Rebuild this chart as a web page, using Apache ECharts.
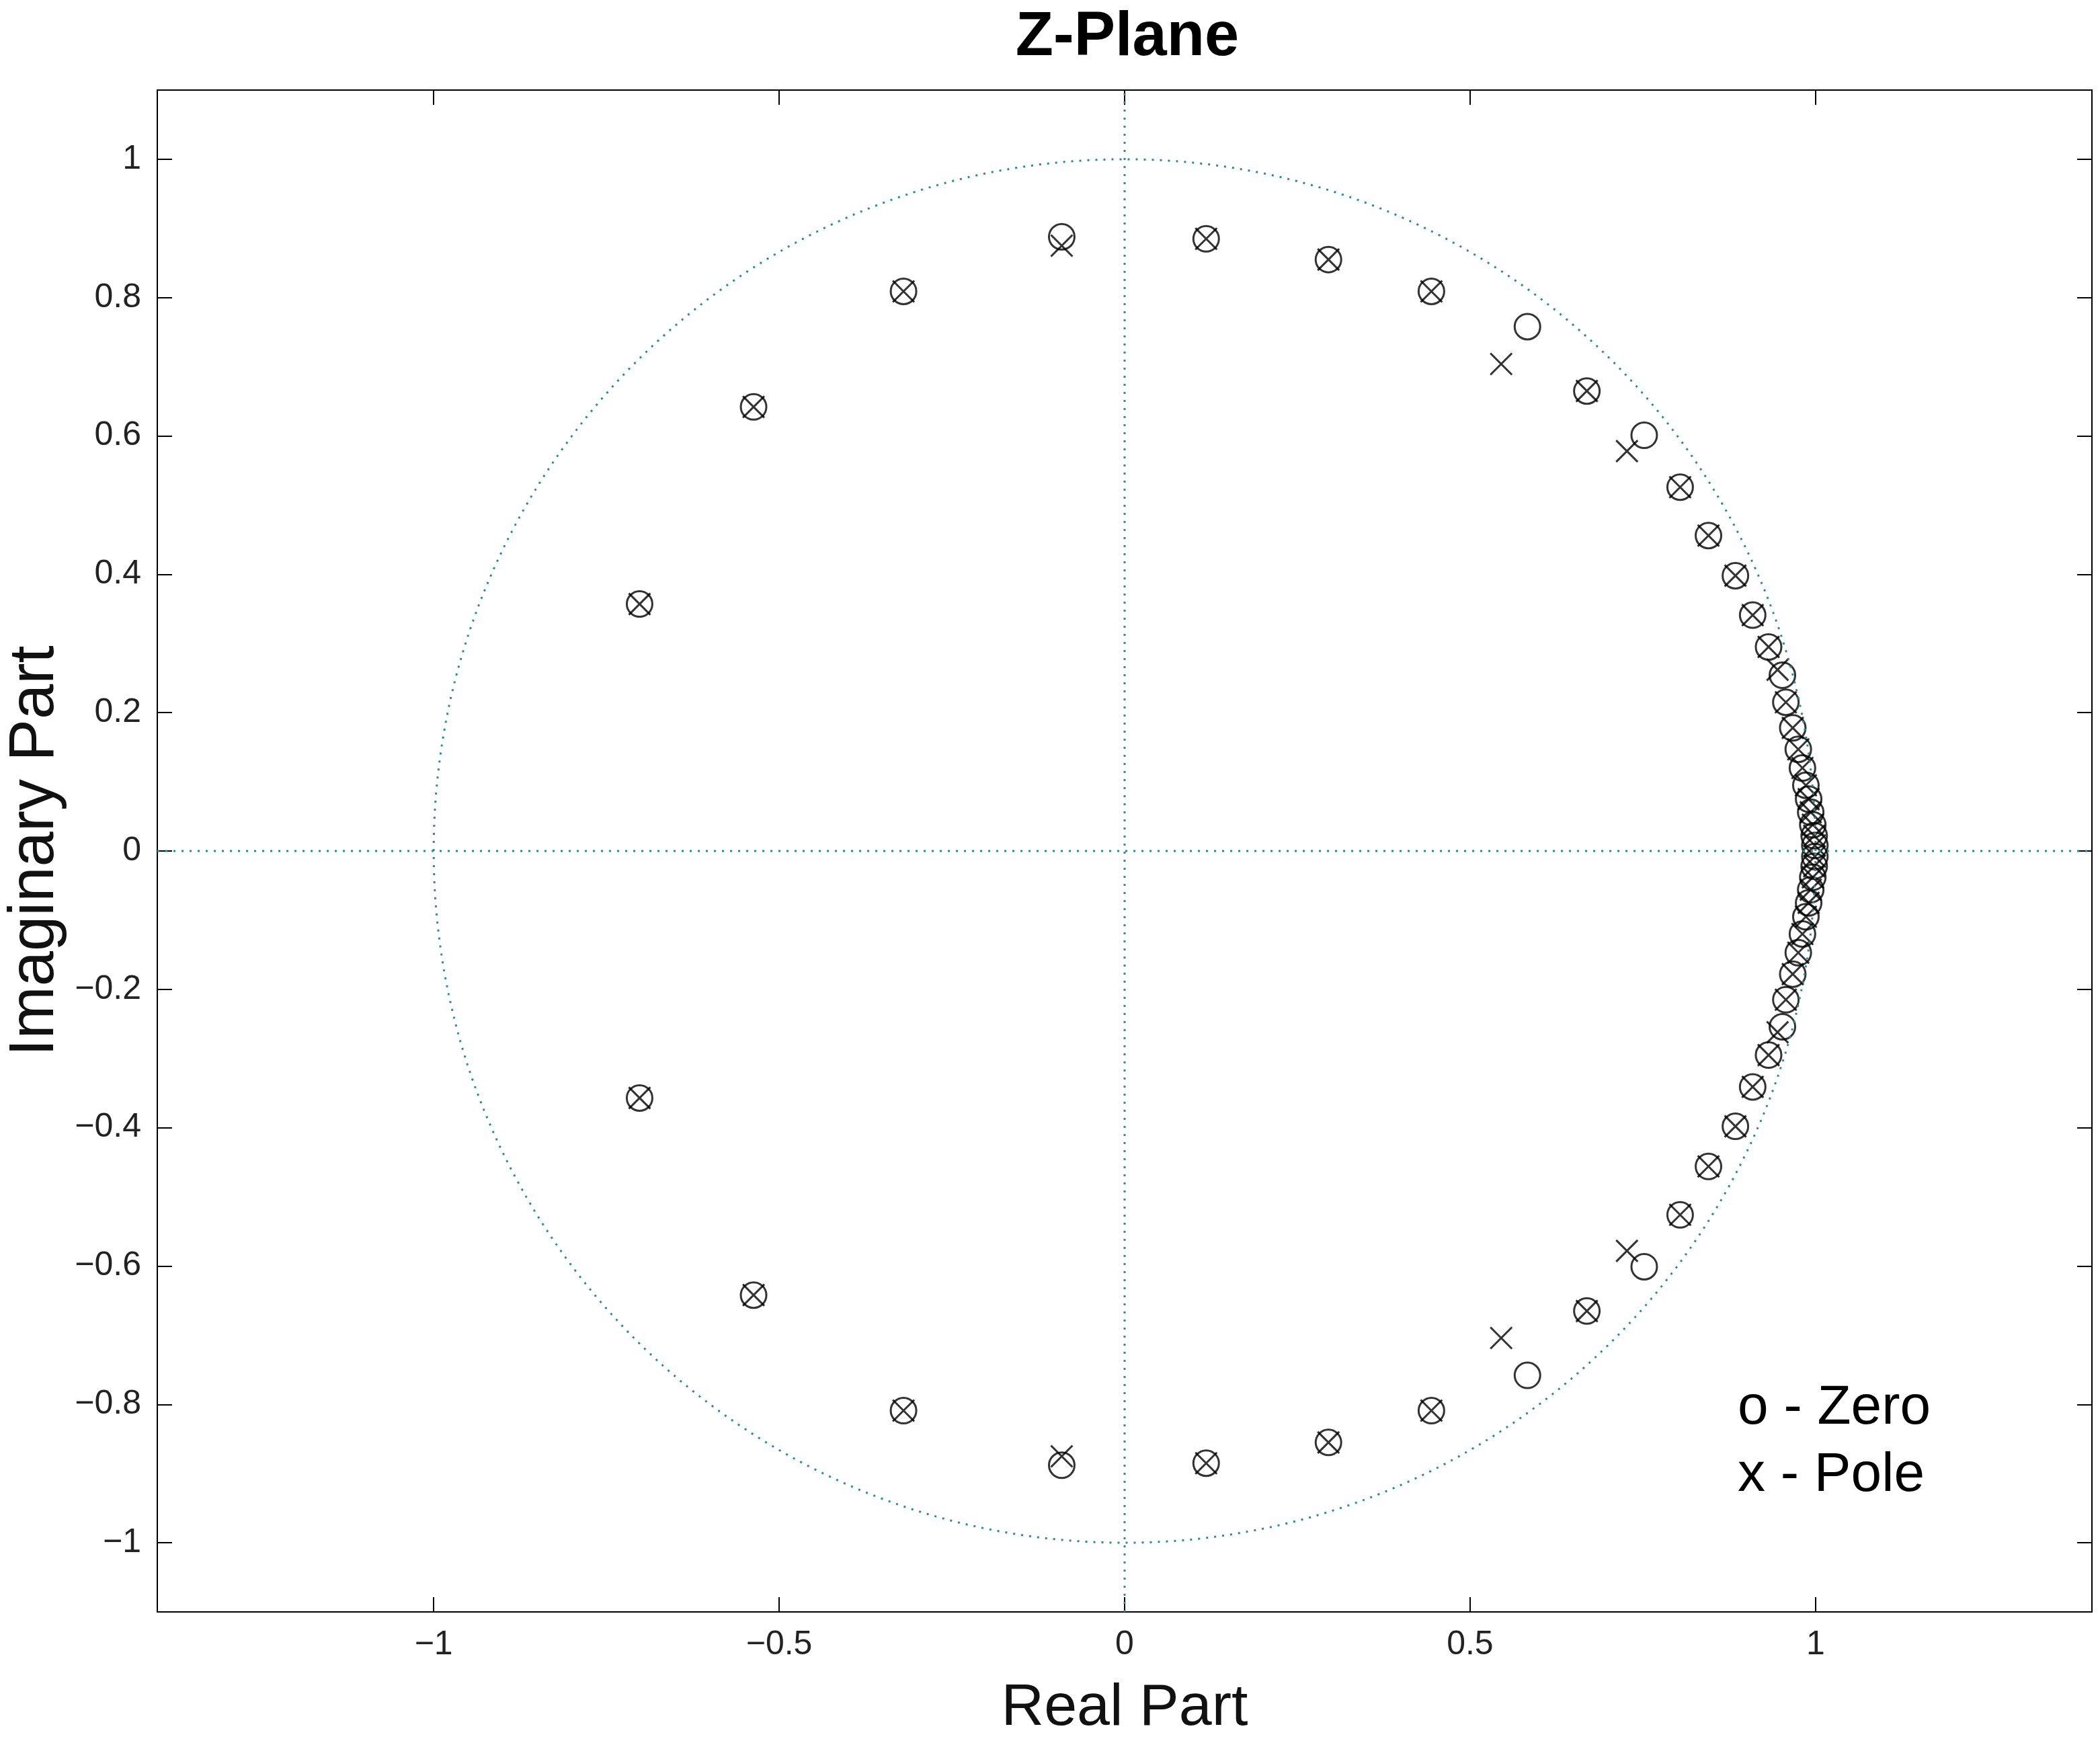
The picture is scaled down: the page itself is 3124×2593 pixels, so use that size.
<!DOCTYPE html>
<html>
<head>
<meta charset="utf-8">
<script src="https://cdn.jsdelivr.net/npm/echarts@6/dist/echarts.min.js"></script>
<style>html,body{margin:0;padding:0;background:#fff}#main{width:3124px;height:2593px}</style>
</head>
<body>
<div id="main"></div>
<script>
// upper half of zeros / poles (lower half is conjugate)
var zeroRe = [-0.702, -0.537, -0.320, -0.091, 0.118, 0.295, 0.444, 0.583, 0.669, 0.752, 0.804, 0.845, 0.884, 0.909, 0.932, 0.952, 0.957, 0.967, 0.975, 0.981, 0.986, 0.990, 0.993, 0.996, 0.998, 0.999];
var zeroIm = [0.357, 0.642, 0.809, 0.888, 0.885, 0.855, 0.809, 0.758, 0.665, 0.601, 0.526, 0.456, 0.398, 0.341, 0.295, 0.254, 0.215, 0.178, 0.147, 0.120, 0.095, 0.075, 0.056, 0.038, 0.022, 0.008];
var poleRe = [-0.702, -0.537, -0.320, -0.091, 0.118, 0.295, 0.444, 0.545, 0.669, 0.727, 0.804, 0.845, 0.884, 0.909, 0.932, 0.945, 0.957, 0.967, 0.975, 0.981, 0.986, 0.990, 0.993, 0.996, 0.998, 0.999];
var poleIm = [0.357, 0.642, 0.809, 0.875, 0.885, 0.855, 0.809, 0.704, 0.665, 0.578, 0.526, 0.456, 0.398, 0.341, 0.295, 0.262, 0.215, 0.178, 0.147, 0.120, 0.095, 0.075, 0.056, 0.038, 0.022, 0.008];
var xTicks = [-1, -0.5, 0, 0.5, 1];
var yTicks = [-1, -0.8, -0.6, -0.4, -0.2, 0, 0.2, 0.4, 0.6, 0.8, 1];

function conj(re, im) {
    var out = [];
    for (var i = 0; i < re.length; i++) {
        out.push([re[i], im[i]]);
        out.push([re[i], -im[i]]);
    }
    return out;
}
// unit circle
var circle = [];
for (var a = 0; a <= 360; a += 1) {
    circle.push([Math.cos(a * Math.PI / 180), Math.sin(a * Math.PI / 180)]);
}
function fmt(v) { return String(v).replace('-', '\u2212'); }

var teal = '#2b8b8f';
var font = 'Arial, "Liberation Sans", sans-serif';
var chart = echarts.init(document.getElementById('main'));
function axis(pos, ticks, min, max, name, showLabel) {
    return {
        type: 'value', position: pos, min: min, max: max,
        name: name, nameLocation: 'middle',
        nameGap: pos == 'bottom' ? 100 : 132,
        nameTextStyle: { fontFamily: font, fontSize: pos == 'bottom' ? 88 : 94, color: '#111' },
        axisLine: { show: true, onZero: false, lineStyle: { color: '#000', width: 2 } },
        axisTick: { show: true, inside: true, length: 22, customValues: ticks, lineStyle: { color: '#000', width: 2 } },
        axisLabel: { show: showLabel, customValues: ticks, formatter: fmt, margin: 24, fontFamily: font, fontSize: 50, color: '#222' },
        splitLine: { show: false }
    };
}

var option = {
    animation: false,
    backgroundColor: '#fff',
    title: { text: 'Z-Plane', left: 1672, textAlign: 'center', top: 6, textStyle: { fontFamily: font, fontSize: 92, fontWeight: 'bold', color: '#000' } },
    grid: { left: 234, right: 12, top: 134, bottom: 195, containLabel: false, outerBoundsMode: 'none' },
    xAxis: [axis('bottom', xTicks, -1.4, 1.4, 'Real Part', true), axis('top', xTicks, -1.4, 1.4, '', false)],
    yAxis: [axis('left', yTicks, -1.1, 1.1, 'Imaginary Part', true), axis('right', yTicks, -1.1, 1.1, '', false)],
    graphic: [{
        type: 'text', left: 2585, top: 2045,
        style: { text: 'o - Zero\nx - Pole', fontFamily: font, fontSize: 82, lineHeight: 100, fill: '#000' }
    }],
    series: [
        { type: 'line', data: circle, showSymbol: false, lineStyle: { color: teal, width: 3, type: [3, 9] } },
        { type: 'line', data: [[-1.4, 0], [1.4, 0]], showSymbol: false, lineStyle: { color: teal, width: 3, type: [3, 9] } },
        { type: 'line', data: [[0, -1.1], [0, 1.1]], showSymbol: false, lineStyle: { color: teal, width: 3, type: [3, 9] } },
        {
            type: 'scatter', name: 'Zero', data: conj(zeroRe, zeroIm), symbol: 'circle', symbolSize: 38,
            itemStyle: { color: 'rgba(0,0,0,0)', borderColor: '#000', borderWidth: 3 }
        },
        {
            type: 'scatter', name: 'Pole', data: conj(poleRe, poleIm), symbol: 'path://M0,0L10,10M10,0L0,10', symbolSize: 32,
            itemStyle: { color: 'none', borderColor: '#000', borderWidth: 3 }
        }
    ]
};
chart.setOption(option);
</script>
</body>
</html>
